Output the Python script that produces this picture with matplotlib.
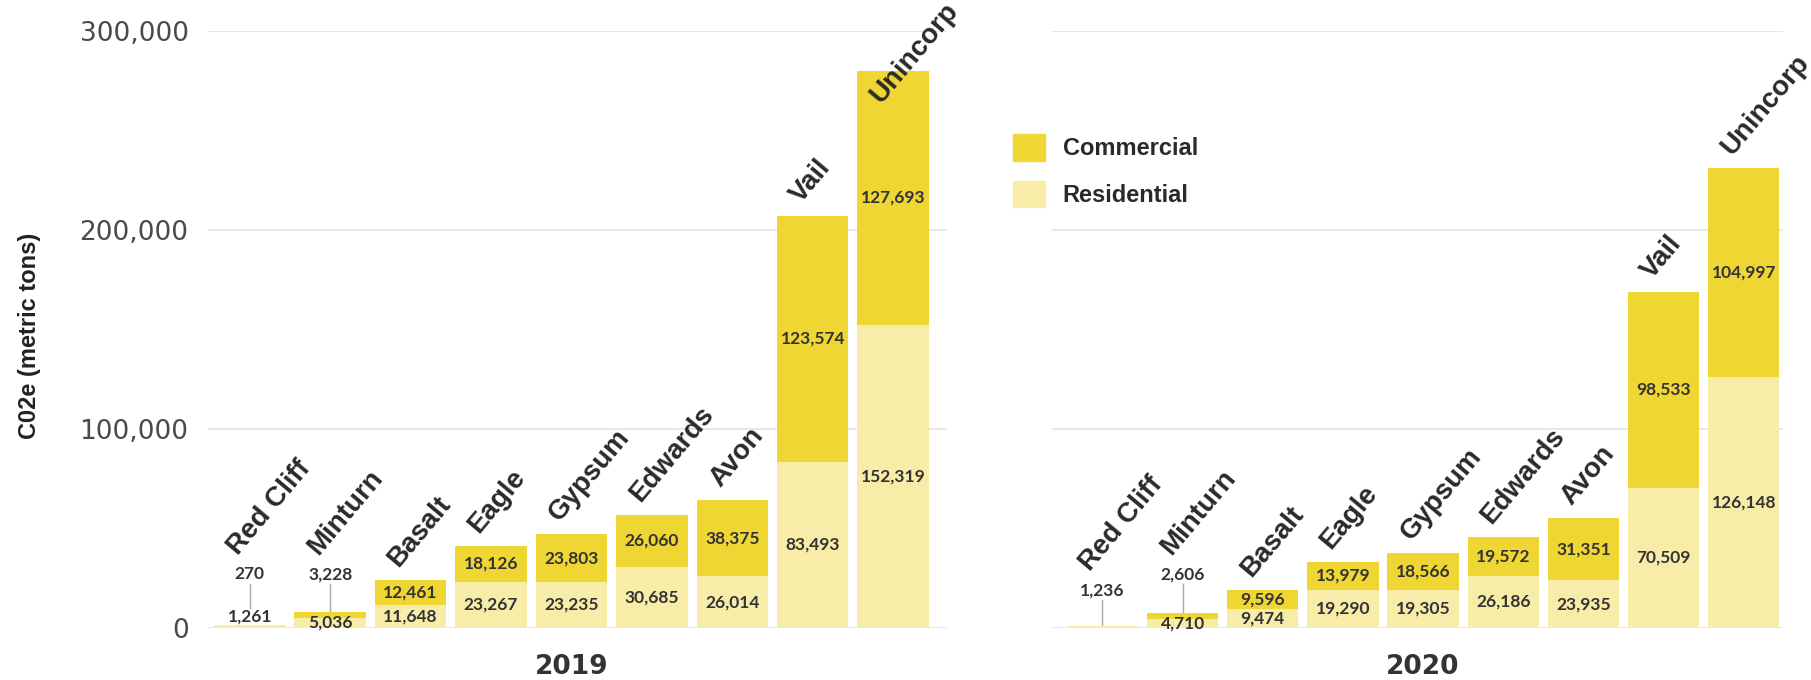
import numpy as np
import matplotlib
matplotlib.use("Agg")
import matplotlib.pyplot as plt
from matplotlib.patches import Patch
from matplotlib.ticker import FuncFormatter

#%% data: CO2e (metric tons) by town, commercial and residential
towns = ["Red Cliff", "Minturn", "Basalt", "Eagle", "Gypsum", "Edwards", "Avon", "Vail", "Unincorp"]

comm_2019 = [270, 3228, 12461, 18126, 23803, 26060, 38375, 123574, 127693]
res_2019 = [1261, 5036, 11648, 23267, 23235, 30685, 26014, 83493, 152319]

comm_2020 = [0, 2606, 9596, 13979, 18566, 19572, 31351, 98533, 104997]
res_2020 = [1236, 4710, 9474, 19290, 19305, 26186, 23935, 70509, 126148]

years = ["2019", "2020"]
yticks = [0, 100000, 200000, 300000]

c_comm = "#efd633"
c_res = "#f7eda8"
txt_dark = "#333333"

fig = plt.figure(figsize=(18.11, 6.8), dpi=100)
ax1 = fig.add_axes([208/1811, 52/680, 739/1811, 597/680])
ax2 = fig.add_axes([1052/1811, 52/680, 731/1811, 597/680])

w = 0.89
val_kw = dict(ha="center", va="center", fontsize=12.5, family="Lato",
              weight="bold", color=txt_dark, zorder=3)


def draw_year(ax, comm, res, year, xlim):
    x = np.arange(len(towns))
    comm = np.array(comm)
    res = np.array(res)
    ax.bar(x, res, w, color=c_res, zorder=2)
    ax.bar(x, comm, w, bottom=res, color=c_comm, zorder=2)

    for i in range(len(towns)):
        c, r = comm[i], res[i]
        tot = c + r
        ext = None   # height of a label sitting above a small bar
        res_top = None

        # residential value
        if r >= 3000:
            ax.text(i, r/2, f"{r:,}", **val_kw)
        elif c > 0:
            ax.text(i, tot + 4000, f"{r:,}", **val_kw)
            res_top = tot + 8500
        else:
            ext = 19000
            ax.text(i, ext, f"{r:,}", **val_kw)
            ax.plot([i, i], [ext - 5000, tot], color="#aaaaaa", lw=1, zorder=1)

        # commercial value
        if c >= 5000:
            ax.text(i, r + c/2, f"{c:,}", **val_kw)
        elif c > 0:
            ext = 27000
            ax.text(i, ext, f"{c:,}", **val_kw)
            end = res_top if res_top is not None else tot
            ax.plot([i, i], [ext - 5000, end], color="#aaaaaa", lw=1, zorder=1)

        # town name, rotated above the bar
        if ext is not None:
            ly = ext + 9000
        else:
            ly = tot + 6000
        ly = min(ly, 263000)
        ax.text(i - 0.15, ly, towns[i], rotation=50, rotation_mode="anchor",
                ha="left", va="baseline", fontsize=20, family="Liberation Sans",
                weight="bold", color="#2a2a2a", zorder=4)

    ax.set_xlim(*xlim)
    ax.set_ylim(0, 300000)
    ax.set_yticks(yticks)
    ax.set_xticks([])
    ax.yaxis.grid(True, color="#e6e6e6", lw=1.3)
    ax.set_axisbelow(True)
    for s in ax.spines.values():
        s.set_visible(False)
    ax.tick_params(axis="y", length=0, pad=14, labelsize=19, labelcolor="#4a4a4a")
    ax.text(4, -0.065, year, transform=ax.get_xaxis_transform(), ha="center",
            va="center", fontsize=19, weight="bold", color=txt_dark)


draw_year(ax1, comm_2019, res_2019, years[0], (-0.52, 8.67))
draw_year(ax2, comm_2020, res_2020, years[1], (-0.63, 8.49))

ax1.yaxis.set_major_formatter(FuncFormatter(lambda v, p: f"{int(v):,}"))
ax2.set_yticklabels([])

ax1.set_ylabel("C02e (metric tons)", fontsize=17, weight="bold",
               family="Liberation Sans", color="#222222")
ax1.yaxis.set_label_coords(-0.226, 0.49)

handles = [Patch(color=c_comm, label="Commercial"), Patch(color=c_res, label="Residential")]
fig.legend(handles=handles, loc="upper left", bbox_to_anchor=(1013/1811, 1 - 134/680),
           frameon=False, handlelength=1.36, handleheight=1.36, handletextpad=0.75,
           labelspacing=0.85, borderpad=0, borderaxespad=0,
           prop={"family": "Liberation Sans", "weight": "bold", "size": 17})
for t in fig.legends[0].get_texts():
    t.set_color("#2a2a2a")

fig.savefig("out.png", dpi=100)
